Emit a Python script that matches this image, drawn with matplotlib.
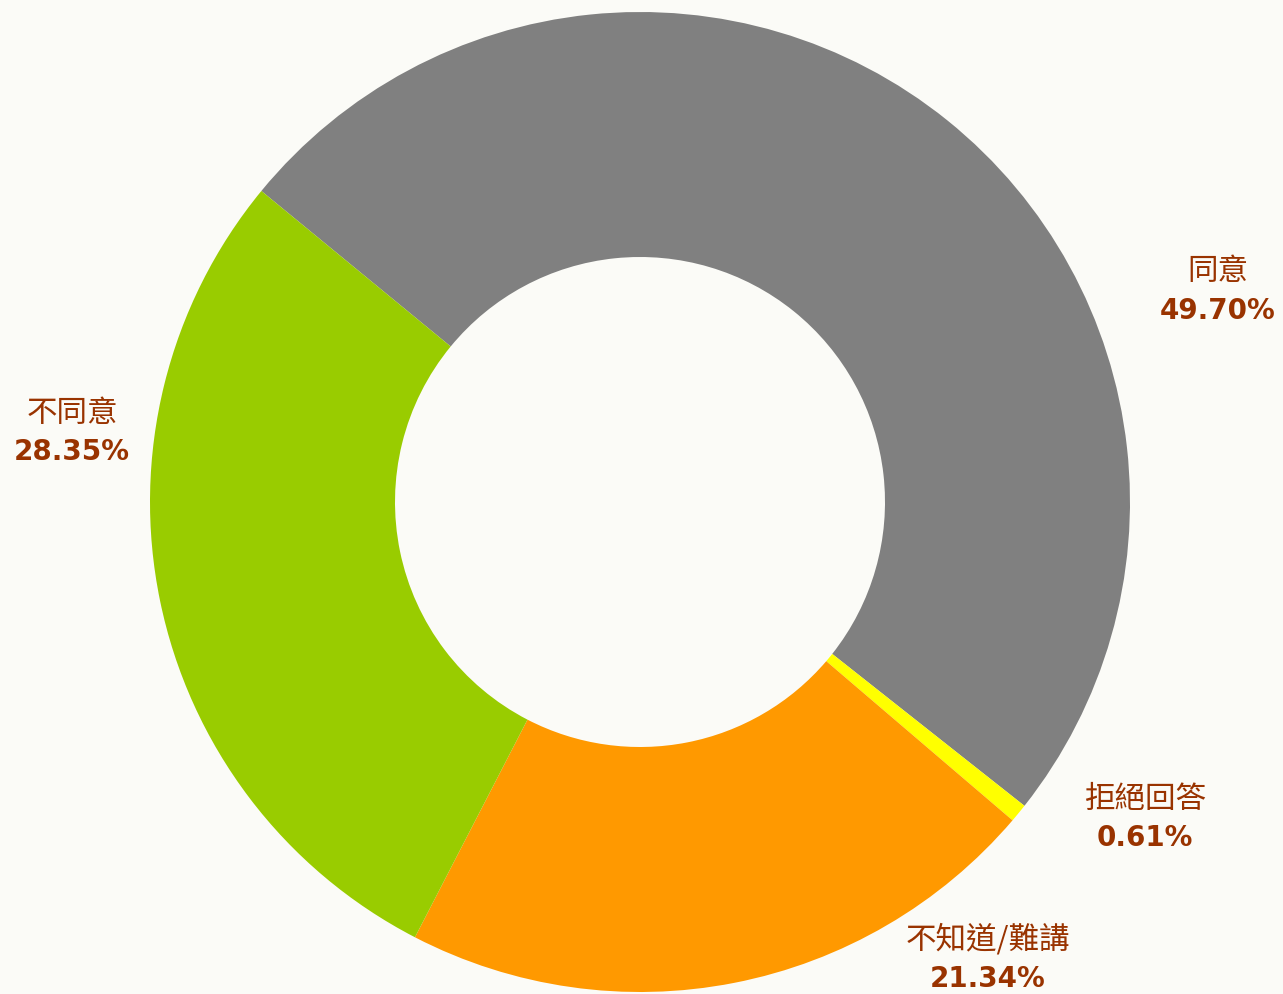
import matplotlib
matplotlib.use('Agg')
import matplotlib.pyplot as plt

plt.rcParams['font.family'] = ['Noto Sans CJK TC', 'DejaVu Sans']

labels = ['同意', '拒絕回答', '不知道/難講', '不同意']
values = [49.70, 0.61, 21.34, 28.35]
colors = ['#808080', '#FFFF00', '#FF9900', '#99CC00']
# label anchor points in pixel coords (x, y from top)
label_pos = [(1218, 292), (1145, 819), (988, 960), (72, 433)]

W, H = 1283, 994
fig = plt.figure(figsize=(W / 100, H / 100), dpi=100, facecolor='#FBFBF7')
ax = fig.add_axes([0, 0, 1, 1])
ax.set_facecolor('#FBFBF7')

ax.pie(values, colors=colors, startangle=140.6, counterclock=False,
       center=(640, H - 502), radius=490,
       wedgeprops=dict(width=245, linewidth=0))

txt_color = '#993300'
for lab, v, (px, py) in zip(labels, values, label_pos):
    ax.text(px, H - py + 20, lab, ha='center', va='center',
            fontsize=22, color=txt_color)
    ax.text(px, H - py - 19, f'{v:.2f}%', ha='center', va='center',
            fontsize=20, fontweight='bold', color=txt_color,
            family='DejaVu Sans')

ax.set_xlim(0, W)
ax.set_ylim(0, H)
ax.set_aspect('equal')
ax.axis('off')

fig.savefig('out.png', dpi=100, facecolor=fig.get_facecolor())
